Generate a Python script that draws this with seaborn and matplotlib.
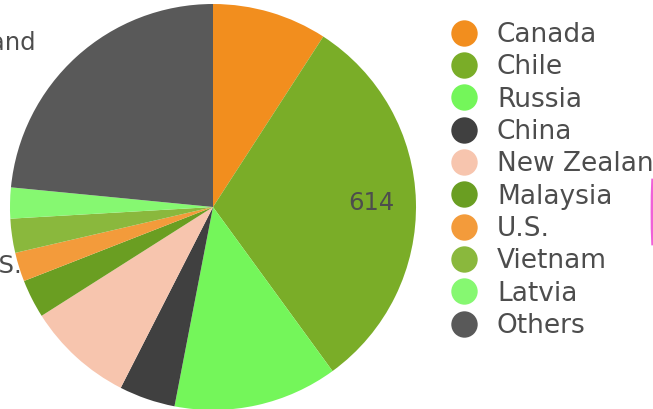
import matplotlib
matplotlib.use("Agg")
import matplotlib.pyplot as plt
import numpy as np
import seaborn as sns
from matplotlib.lines import Line2D
from matplotlib.patches import Arc

countries = ["Canada", "Chile", "Russia", "China", "New Zealand",
             "Malaysia", "U.S.", "Vietnam", "Latvia", "Others"]
values = [182, 614, 260, 89, 169, 61, 46, 54, 49, 467]
colors = ["#f28e1e", "#7aad28", "#74f65a", "#404040", "#f7c5ae",
          "#6a9e22", "#f39b3b", "#8ab83d", "#86f871", "#595959"]
shown_label = "Chile"

sns.set_theme(style="white")
plt.rcParams["font.family"] = ["DejaVu Sans"]
text_color = "#4d4d4d"

W, H = 653, 409
fig = plt.figure(figsize=(W / 100, H / 100), dpi=100)
fig.patch.set_facecolor("white")

# pie centred at (213, 207) px, radius 203 px
cx, cy, r = 213, 207, 203
ax = fig.add_axes([(cx - r) / W, (H - cy - r) / H, 2 * r / W, 2 * r / H])
wedges, _ = ax.pie(values, colors=sns.color_palette(colors), startangle=90,
                   counterclock=False, radius=1,
                   wedgeprops={"linewidth": 0, "antialiased": True})
ax.set_xlim(-1, 1)
ax.set_ylim(-1, 1)
ax.set_aspect("equal")
ax.axis("off")

# value label inside Chile slice
i = countries.index(shown_label)
w = wedges[i]
mid = np.deg2rad((w.theta1 + w.theta2) / 2)
ax.text(0.78 * np.cos(mid), 0.78 * np.sin(mid), str(values[i]),
        ha="center", va="center", fontsize=17.5, color=text_color)

# outside labels clipped by the figure edge
fig.text(36 / W, 1 - 43 / H, "New Zealand", ha="right", va="center",
         fontsize=17.5, color=text_color)
fig.text(23 / W, 1 - 266 / H, "U.S.", ha="right", va="center",
         fontsize=17.5, color=text_color)

# legend
handles = [Line2D([0], [0], marker="o", linestyle="none", markersize=19,
                  markerfacecolor=c, markeredgewidth=0)
           for c in colors]
leg = fig.legend(handles, countries, loc="upper left",
                 bbox_to_anchor=(451 / W, 1 - 22 / H), frameon=False,
                 fontsize=19, labelspacing=0.24, handletextpad=0.74,
                 handlelength=1.0, borderaxespad=0, borderpad=0)
for t in leg.get_texts():
    t.set_color(text_color)

# fragment of a neighbouring chart at the right edge
arc_ax = fig.add_axes([0, 0, 1, 1], facecolor="none")
arc_ax.set_xlim(0, W)
arc_ax.set_ylim(H, 0)
arc_ax.axis("off")
arc_ax.add_patch(Arc((852, 212), 400, 800, theta1=170.5, theta2=189.5,
                     color="#f060d8", linewidth=2))

fig.savefig("out.png", dpi=100)
